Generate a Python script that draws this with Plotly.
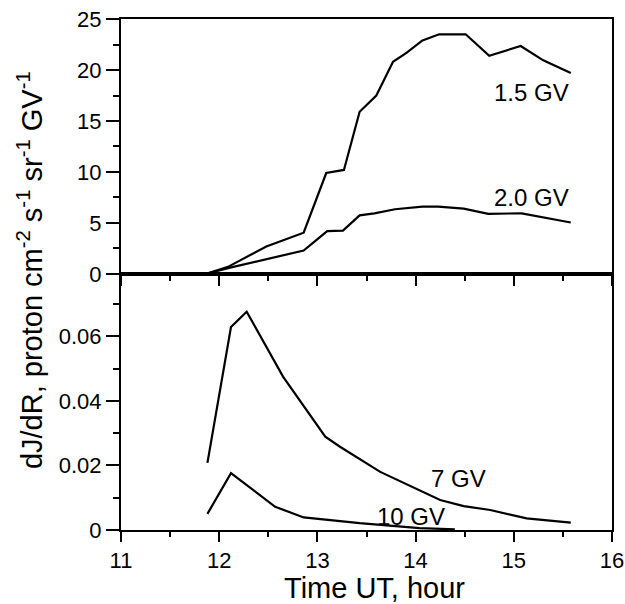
import plotly.graph_objects as go
from plotly.subplots import make_subplots

# ---- data ----
t_15 = [11.86, 12.09, 12.48, 12.86, 13.09, 13.27, 13.43, 13.60, 13.77, 13.91,
        14.07, 14.24, 14.51, 14.75, 15.07, 15.30, 15.58]
j_15 = [0.0, 0.7, 2.7, 4.05, 9.9, 10.2, 15.9, 17.5, 20.8, 21.7,
        22.9, 23.5, 23.5, 21.4, 22.35, 20.95, 19.7]

t_20 = [11.86, 12.10, 12.86, 13.10, 13.26, 13.43, 13.58, 13.79, 14.07, 14.23,
        14.49, 14.74, 15.08, 15.58]
j_20 = [0.0, 0.6, 2.3, 4.2, 4.25, 5.75, 5.95, 6.35, 6.6, 6.6,
        6.4, 5.9, 5.95, 5.05]

t_7 = [11.88, 12.12, 12.28, 12.65, 13.08, 13.23, 13.64, 14.25, 14.49, 14.76, 15.13, 15.58]
j_7 = [0.0208, 0.0629, 0.0676, 0.0475, 0.0289, 0.0258, 0.0180, 0.0093, 0.0074, 0.0062, 0.0036, 0.0023]

t_10 = [11.88, 12.12, 12.57, 12.86, 13.43, 14.04, 14.40]
j_10 = [0.0050, 0.0176, 0.0072, 0.0039, 0.0021, 0.0006, 0.0002]

y_top_ticks = [0, 5, 10, 15, 20, 25]
y_bot_ticks = [0, 0.02, 0.04, 0.06]
y_bot_text = ["0", "0.02", "0.04", "0.06"]
x_ticks = [11, 12, 13, 14, 15, 16]

FONT = "Liberation Sans, Arial, sans-serif"

fig = make_subplots(rows=2, cols=1, shared_xaxes=True, vertical_spacing=0)

line = dict(color="black", width=2.2)
fig.add_trace(go.Scatter(x=t_15, y=j_15, mode="lines", line=line), row=1, col=1)
fig.add_trace(go.Scatter(x=t_20, y=j_20, mode="lines", line=line), row=1, col=1)
fig.add_trace(go.Scatter(x=t_7, y=j_7, mode="lines", line=line), row=2, col=1)
fig.add_trace(go.Scatter(x=t_10, y=j_10, mode="lines", line=line), row=2, col=1)

# curve labels
labels = [
    ("1.5 GV", 15.185, 17.76, "x", "y"),
    ("2.0 GV", 15.185, 7.46, "x", "y"),
    ("7 GV", 14.44, 0.0161, "x2", "y2"),
    ("10 GV", 13.95, 0.0043, "x2", "y2"),
]
for txt, xx, yy, xr, yr in labels:
    fig.add_annotation(x=xx, y=yy, xref=xr, yref=yr, text=txt, showarrow=False,
                       xanchor="center", yanchor="middle",
                       font=dict(family=FONT, size=24, color="black"))

axis_common = dict(showline=True, linecolor="black", linewidth=2, mirror=True,
                   ticks="outside", tickcolor="black", tickwidth=2,
                   showgrid=False, zeroline=False, automargin=False,
                   ticklabeloverflow="allow",
                   tickfont=dict(family=FONT, size=22, color="black"))

x_minor = dict(dtick=0.5, ticklen=5, ticks="outside", tickcolor="black", tickwidth=1.5, showgrid=False)

fig.update_xaxes(range=[11, 16], tickvals=x_ticks, ticklen=10, minor=x_minor, **axis_common)
fig.update_xaxes(showticklabels=False, row=1, col=1)

fig.update_yaxes(range=[0, 25], tickvals=y_top_ticks, ticklen=13,
                 minor=dict(dtick=2.5, ticklen=6, ticks="outside", tickcolor="black", tickwidth=1.5, showgrid=False),
                 row=1, col=1, **axis_common)
fig.update_yaxes(range=[0, 0.0793], tickvals=y_bot_ticks, ticktext=y_bot_text, ticklen=13,
                 minor=dict(dtick=0.01, ticklen=6, ticks="outside", tickcolor="black", tickwidth=1.5, showgrid=False),
                 row=2, col=1, **axis_common)

fig.update_layout(
    yaxis=dict(domain=[0.501, 1]),
    yaxis2=dict(domain=[0, 0.501]),
)

# axis titles as annotations
fig.add_annotation(x=0.517, y=-0.113, xref="paper", yref="paper",
                   xanchor="center", yanchor="middle",
                   text="Time UT, hour", showarrow=False,
                   font=dict(family=FONT, size=29, color="black"))
fig.add_annotation(x=-0.185, y=0.509, xref="paper", yref="paper", textangle=-90,
                   xanchor="center", yanchor="middle",
                   text="dJ/dR, proton cm<sup>-2</sup> s<sup>-1</sup> sr<sup>-1</sup> GV<sup>-1</sup>",
                   showarrow=False, font=dict(family=FONT, size=29, color="black"))

fig.update_layout(
    width=625, height=604,
    margin=dict(l=121, r=13, t=19, b=74),
    plot_bgcolor="white", paper_bgcolor="white",
    showlegend=False,
)

# drop the default 8px body margin so the figure fills the window
fig.write_html("out.html", config={"displayModeBar": False},
               post_script="document.body.style.margin='0';")
